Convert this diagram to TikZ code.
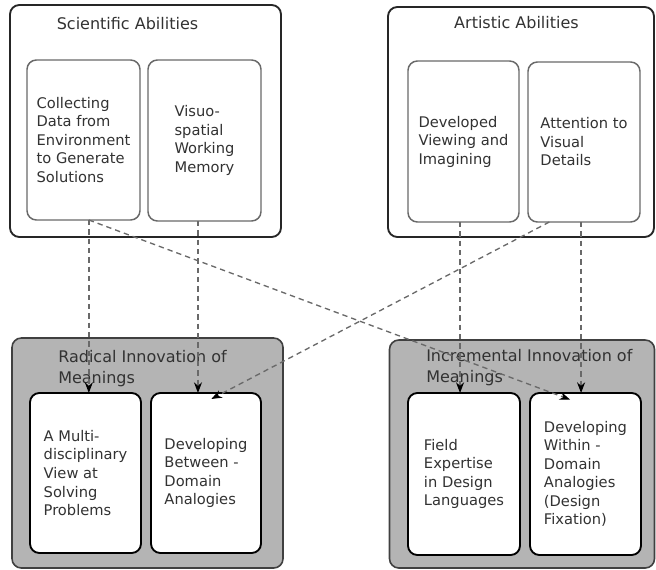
\documentclass[tikz,border=0pt]{standalone}
\usepackage{fontspec}
\setmainfont{DejaVu Sans}
\usetikzlibrary{arrows.meta, calc}
\definecolor{fillgray}{RGB}{180, 180, 180}
\definecolor{edgegray}{RGB}{105, 105, 105}
\definecolor{inkgray}{RGB}{50, 50, 50}

\begin{document}
\begin{tikzpicture}[x=0.75pt, y=-0.75pt,
  font=\fontsize{11}{13.9}\selectfont, text=inkgray,
  size/.style 2 args={minimum width=#1*0.75pt, minimum height=#2*0.75pt},
  group/.style={draw=black!85, line width=1.4pt, rounded corners=7pt, inner sep=0pt, outer sep=0pt},
  outcome/.style={group, fill=fillgray, draw=black!75, line width=1.2pt},
  heading/.style={font=\fontsize{12}{15.8}\selectfont, align=left, inner sep=0pt},
  ability/.style={draw=edgegray, line width=1.1pt, rounded corners=7pt, fill=white, align=left, inner sep=0pt, outer sep=0pt},
  result/.style={ability, draw=black, line width=1.4pt},
  link/.style={draw=edgegray, line width=1pt, dash pattern=on 4pt off 3pt, -{Stealth[length=8pt, width=6pt, black]}}]

  \useasboundingbox (0,0) rectangle (656,570);

  % Abilities (top)
  \node[group, size={271}{232}] (sci) at (145.5, 121) {};
  \node[heading] (scititle) at (127.5, 24) {Scientific Abilities};
  \node[ability, size={113}{160}] (collect) at (83.5, 140) {Collecting\\Data from\\Environment\\to Generate\\Solutions};
  \node[ability, size={113}{161}] (visuo) at (204.5, 140.5) {Visuo-\\spatial\\Working\\Memory};

  \node[group, size={266}{230}] (art) at (521, 122) {};
  \node[heading] (arttitle) at (516.5, 23) {Artistic Abilities};
  \node[ability, size={111}{161}] (viewing) at (463.5, 141.5) {Developed\\Viewing and\\Imagining};
  \node[ability, size={112}{160}] (attention) at (584, 142) {Attention to\\Visual\\Details};

  % Innovation of meanings (bottom)
  \node[outcome, size={271}{230}] (rad) at (147.5, 453) {};
  \node[heading, anchor=north west] (radtitle) at (58, 350) {Radical Innovation of\\Meanings};
  \node[result, size={111}{160}] (multi) at (85.5, 473) {A Multi-\\disciplinary\\View at\\Solving\\Problems};
  \node[result, size={110}{160}] (between) at (206, 473) {Developing\\Between -\\Domain\\Analogies};

  \node[outcome, size={265}{228}] (inc) at (522, 454) {};
  \node[heading, anchor=north west] (inctitle) at (426, 349) {Incremental Innovation of\\Meanings};
  \node[result, size={112}{162}] (field) at (464, 474) {Field\\Expertise\\in Design\\Languages};
  \node[result, size={111}{162}] (within) at (585.5, 474) {Developing\\Within -\\Domain\\Analogies\\(Design\\Fixation)};

  % Links
  \draw[link] ([xshift=4pt]collect.south) -- ([xshift=4pt]collect.south |- multi.north);
  \draw[link] ([xshift=-4.9pt]visuo.south) -- ([xshift=-4.9pt]visuo.south |- between.north);
  \draw[link] ([xshift=4pt]collect.south) -- ([xshift=-11.5pt, yshift=-5pt]within.north);
  \draw[link] ([xshift=-26pt]attention.south) -- ([xshift=4pt, yshift=-4.5pt]between.north);
  \draw[link] ([xshift=-2.6pt]viewing.south) -- ([xshift=-2.6pt]viewing.south |- field.north);
  \draw[link] ([xshift=-2.2pt]attention.south) -- ([xshift=-2.2pt]attention.south |- within.north);
\end{tikzpicture}
\end{document}
